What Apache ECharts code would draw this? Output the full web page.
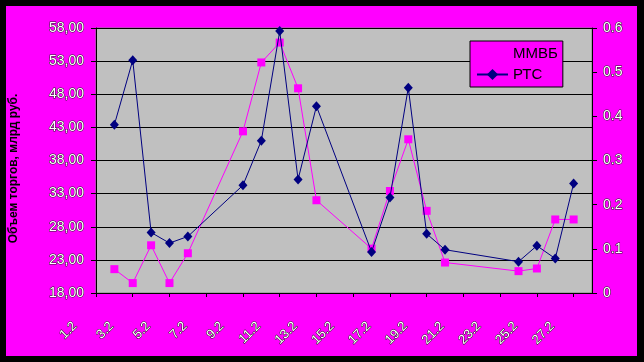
<!DOCTYPE html>
<html><head><meta charset="utf-8">
<script src="https://cdn.jsdelivr.net/npm/echarts@6/dist/echarts.min.js"></script>
<style>
html,body{margin:0;padding:0;background:#000;width:644px;height:362px;overflow:hidden}
#c{position:absolute;left:6px;top:6px;width:631px;height:350px}
</style></head>
<body><div id="c"></div>
<script>
// Categories: days of February (label "d.2")
const categories = ['1.2','2.2','3.2','4.2','5.2','6.2','7.2','8.2','9.2','10.2','11.2','12.2','13.2','14.2',
  '15.2','16.2','17.2','18.2','19.2','20.2','21.2','22.2','23.2','24.2','25.2','26.2','27.2','28.2'];
// Trading days with observations
const tradeDays = ['2.2','3.2','4.2','5.2','6.2','9.2','10.2','11.2','12.2','13.2','16.2','17.2','18.2','19.2','20.2','24.2','25.2','26.2','27.2'];
// ММВБ (left axis)
const mmvb = [21.6,19.5,25.2,19.5,24.0,42.4,52.8,55.8,48.9,32.0,24.7,33.4,41.2,30.4,22.6,21.3,21.7,29.1,29.1];
// РТС (right axis)
const rts = [0.381,0.527,0.137,0.113,0.128,0.244,0.345,0.593,0.257,0.423,0.093,0.216,0.465,0.134,0.098,0.071,0.107,0.078,0.248];
const seriesNames = ['ММВБ','РТС'];
const yTitle = 'Объем торгов, млрд руб.';

const lbl = {color:'#fff', textBorderColor:'#222', textBorderWidth:1, fontFamily:'Liberation Sans, Arial, sans-serif'};
const chart = echarts.init(document.getElementById('c'));
chart.setOption({
  backgroundColor:'#ff00ff',
  animation:false,
  grid:{left:90, top:22, right:45, bottom:63, show:true, backgroundColor:'#c0c0c0', borderColor:'#808080', borderWidth:1,
        containLabel:false, outerBoundsMode:'none'},
  legend:{
    data:seriesNames, orient:'vertical', left:464, top:35,
    backgroundColor:'#ff00ff', borderColor:'#000', borderWidth:1,
    padding:[5,5,5,6], itemGap:6, itemWidth:31, itemHeight:14,
    textStyle:{fontSize:15, color:'#000', fontFamily:'Liberation Sans, Arial, sans-serif'}
  },
  xAxis:{
    type:'category', data:categories, boundaryGap:false,
    axisLine:{lineStyle:{color:'#000'}},
    axisTick:{interval:1, length:4, lineStyle:{color:'#000'}},
    axisLabel:Object.assign({interval:1, rotate:45, fontSize:13, margin:10, padding:[0,30,0,0]}, lbl),
    splitLine:{show:false}
  },
  yAxis:[{
    type:'value', min:18, max:58, interval:5, position:'left',
    name:yTitle, nameLocation:'middle', nameGap:76,
    nameTextStyle:{fontSize:12, fontWeight:'bold', color:'#000', fontFamily:'Liberation Sans, Arial, sans-serif', padding:[0,16,0,0]},
    axisLine:{show:true, lineStyle:{color:'#000'}},
    axisTick:{show:true, length:5, lineStyle:{color:'#000'}},
    axisLabel:Object.assign({fontSize:14, margin:12, formatter:v=>v.toFixed(2).replace('.',',')}, lbl),
    splitLine:{show:true, lineStyle:{color:'#000', width:1}}
  },{
    type:'value', min:0, max:0.6, interval:0.1, position:'right', alignTicks:false,
    axisLine:{show:true, lineStyle:{color:'#000'}},
    axisTick:{show:true, length:5, lineStyle:{color:'#000'}},
    axisLabel:Object.assign({fontSize:14, margin:11, formatter:v=>String(+v.toFixed(1))}, lbl),
    splitLine:{show:false}
  }],
  series:[{
    name:seriesNames[0], type:'line', yAxisIndex:0,
    data:tradeDays.map((d,i)=>[d,mmvb[i]]),
    symbol:'rect', symbolSize:8, showAllSymbol:true,
    itemStyle:{color:'#ff00ff'}, lineStyle:{color:'#ff00ff', width:1}, z:2
  },{
    name:seriesNames[1], type:'line', yAxisIndex:1,
    data:tradeDays.map((d,i)=>[d,rts[i]]),
    symbol:'diamond', symbolSize:[9,10], showAllSymbol:true,
    itemStyle:{color:'#000080'}, lineStyle:{color:'#000080', width:1}, z:3
  }]
});
</script></body></html>
